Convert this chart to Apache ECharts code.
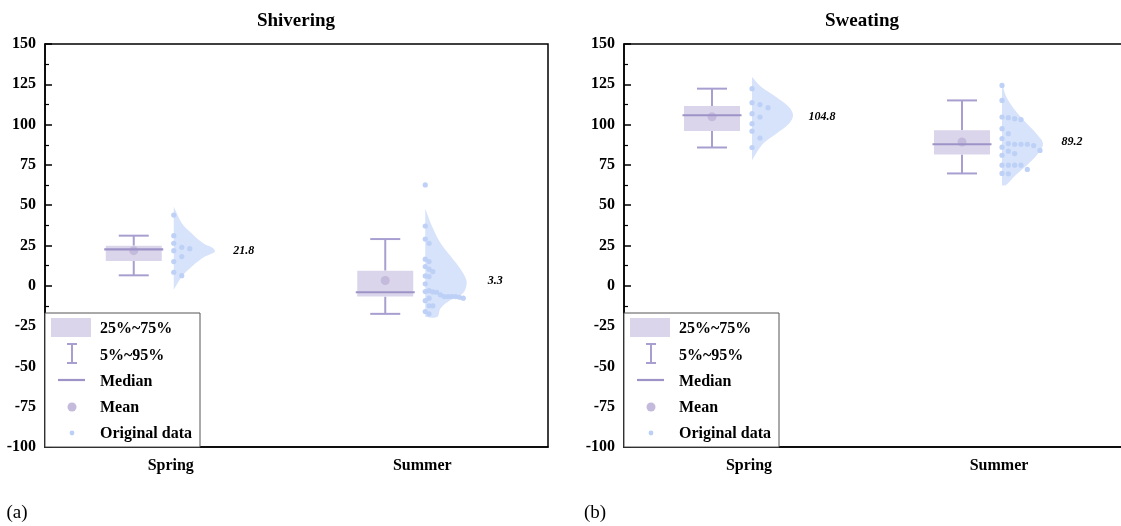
<!DOCTYPE html>
<html><head><meta charset="utf-8">
<script src="https://cdn.jsdelivr.net/npm/echarts@6/dist/echarts.min.js"></script>
<style>html,body{margin:0;padding:0;background:#fff}#c{width:1121px;height:526px}</style>
</head><body><div id="c"></div>
<script>
// ---------------- data ----------------
const categories = ['Spring', 'Summer'];
const panelTitles = ['Shivering', 'Sweating'];
const panelTags = ['(a)', '(b)'];
const legendLabels = ['25%~75%', '5%~95%', 'Median', 'Mean', 'Original data'];

// Shivering stats per category [Spring, Summer]
const shiverP5 = [6.5, -17.4];
const shiverQ1 = [15.4, -6.7];
const shiverMedian = [22.6, -4.0];
const shiverQ3 = [24.9, 9.4];
const shiverP95 = [31.1, 29.0];
const shiverMean = [21.8, 3.3];

// Sweating stats per category [Spring, Summer]
const sweatP5 = [85.8, 69.7];
const sweatQ1 = [96.1, 81.4];
const sweatMedian = [105.8, 87.8];
const sweatQ3 = [111.5, 96.5];
const sweatP95 = [122.3, 115.0];
const sweatMean = [104.8, 89.2];

// original data points
const shiverSpringData = [43.9, 31.1, 26.4, 23.9, 23.0, 21.8, 18.1, 15.0, 8.4, 6.3];
const shiverSummerData = [62.6, 37.1, 29.0, 26.4, 16.5, 15.0, 11.9, 10.3, 8.8, 6.1, 5.7, 1.2, -3.0, -3.6, -3.8, -4.0, -5.6, -6.7, -6.7, -6.7, -6.7, -7.1, -7.7, -7.7, -9.2, -12.4, -12.4, -16.0, -17.4];
const sweatSpringData = [122.3, 113.6, 112.4, 110.5, 106.8, 104.7, 100.6, 95.9, 91.7, 85.8];
const sweatSummerData = [124.3, 115.0, 104.7, 104.3, 103.7, 103.1, 97.5, 94.4, 91.3, 88.2, 87.8, 87.8, 87.8, 87.0, 86.0, 84.0, 83.5, 82.0, 81.0, 74.8, 74.8, 74.8, 74.8, 72.2, 69.7, 69.5];

// half-violin density profiles: [value, relative density]
const shiverSpringDensity = [[49.0,0],[38.7,0.2],[32.5,0.44],[26.4,0.72],[23.3,0.96],[21.2,1],[18.1,0.76],[11.9,0.44],[5.7,0.2],[-2.5,0]];
const shiverSummerDensity = [[48.0,0],[36.6,0.17],[26.4,0.375],[18.1,0.625],[9.8,0.875],[3.7,1],[-0.5,1],[-4.6,0.92],[-8.7,0.625],[-13.9,0.375],[-19.4,0.29],[-19.4,0]];
const sweatSpringDensity = [[129.5,0],[123.3,0.23],[117.1,0.59],[110.9,0.9],[105.8,1],[100.6,0.9],[94.4,0.59],[88.2,0.27],[77.9,0]];
const sweatSummerDensity = [[126.4,0],[118.1,0.09],[109.9,0.29],[101.6,0.57],[94.4,0.84],[88.2,1],[82.0,0.88],[74.8,0.61],[68.6,0.33],[62.4,0.09],[62.4,0]];

const yMin = -100, yMax = 150, yInterval = 25;

// ---------------- layout / style ----------------
const FONT = "'Liberation Serif', 'Times New Roman', serif";
const GRID_TOP = 44, GRID_H = 403;
const GRID_LEFTS = [45, 624];
const GRID_WIDTHS = [503, 500];
const BOX_OFFSET = -37, BOX_W = 56, CAP_W = 30;
const VIOLIN_OFFSET = 3, VIOLIN_W = 41;
const DOT_R = 2.6, SWARM_STEP = 8, SWARM_GAP_PX = 7;
const BOX_FILL = '#dad5eb', MEDIAN_C = '#9e93c7', WHISKER_C = '#a89fd0', MEAN_C = '#c4badc';
const VIOLIN_FILL = '#d7e3fb', DOT_C = '#bccff6';
const PX_PER_UNIT = GRID_H / (yMax - yMin);

// beeswarm layout: column index per point, then a per-group step so the swarm fits the violin width
function swarm(values, cat) {
  const thr = SWARM_GAP_PX / PX_PER_UNIT;
  const cols = [];
  const ks = values.map(v => {
    let k = 0;
    while (cols[k] && cols[k].some(u => Math.abs(u - v) < thr)) k++;
    (cols[k] = cols[k] || []).push(v);
    return k;
  });
  const maxK = Math.max.apply(null, ks);
  const step = maxK > 0 ? Math.min(SWARM_STEP, (VIOLIN_W - 3) / maxK) : SWARM_STEP;
  return values.map((v, i) => [cat, v, ks[i] * step]);
}

function boxRender(params, api) {
  const cat = api.value(0);
  const yy = v => api.coord([cat, v])[1];
  const cx = api.coord([cat, 0])[0] + BOX_OFFSET;
  const p5 = yy(api.value(1)), q1 = yy(api.value(2)), md = yy(api.value(3)), q3 = yy(api.value(4)), p95 = yy(api.value(5));
  const meanV = api.value(6), mn = yy(meanV);
  const ws = { stroke: WHISKER_C, lineWidth: 2 };
  return { type: 'group', children: [
    { type: 'line', shape: { x1: cx, y1: p95, x2: cx, y2: q3 }, style: ws },
    { type: 'line', shape: { x1: cx, y1: q1, x2: cx, y2: p5 }, style: ws },
    { type: 'line', shape: { x1: cx - CAP_W / 2, y1: p95, x2: cx + CAP_W / 2, y2: p95 }, style: ws },
    { type: 'line', shape: { x1: cx - CAP_W / 2, y1: p5, x2: cx + CAP_W / 2, y2: p5 }, style: ws },
    { type: 'rect', shape: { x: cx - BOX_W / 2, y: q3, width: BOX_W, height: q1 - q3 }, style: { fill: BOX_FILL } },
    { type: 'circle', shape: { cx: cx, cy: mn, r: 4.5 }, style: { fill: MEAN_C } },
    { type: 'line', shape: { x1: cx - BOX_W / 2 - 1.5, y1: md, x2: cx + BOX_W / 2 + 1.5, y2: md }, style: { stroke: MEDIAN_C, lineWidth: 2.2 } },
    { type: 'text', style: { text: meanV.toFixed(1), x: cx - BOX_OFFSET + 73, y: mn, align: 'center', verticalAlign: 'middle', font: 'italic bold 12px ' + FONT, fill: '#000' } }
  ]};
}

function makeViolinRender(profiles) {
  return function (params, api) {
    const cat = api.value(0);
    const prof = profiles[cat];
    const base = api.coord([cat, 0])[0] + VIOLIN_OFFSET;
    const pts = prof.map(p => [base + p[1] * VIOLIN_W, api.coord([cat, p[0]])[1]]);
    const back = prof.slice().reverse().map(p => [base, api.coord([cat, p[0]])[1]]);
    return { type: 'polygon', shape: { points: pts.concat(back), smooth: 0.35 }, style: { fill: VIOLIN_FILL } };
  };
}

function pointRender(params, api) {
  const c = api.coord([api.value(0), api.value(1)]);
  return { type: 'circle', shape: { cx: c[0] + VIOLIN_OFFSET + api.value(2), cy: c[1], r: DOT_R }, style: { fill: DOT_C, opacity: 0.95 } };
}

function statRows(p5, q1, md, q3, p95, mean) {
  return categories.map((c, i) => [i, p5[i], q1[i], md[i], q3[i], p95[i], mean[i]]);
}

const panels = [
  { stats: statRows(shiverP5, shiverQ1, shiverMedian, shiverQ3, shiverP95, shiverMean),
    dens: [shiverSpringDensity, shiverSummerDensity],
    pts: swarm(shiverSpringData, 0).concat(swarm(shiverSummerData, 1)) },
  { stats: statRows(sweatP5, sweatQ1, sweatMedian, sweatQ3, sweatP95, sweatMean),
    dens: [sweatSpringDensity, sweatSummerDensity],
    pts: swarm(sweatSpringData, 0).concat(swarm(sweatSummerData, 1)) }
];

const grids = [], xAxes = [], yAxes = [], series = [], graphics = [];
panels.forEach((p, i) => {
  grids.push({ left: GRID_LEFTS[i], top: GRID_TOP, width: GRID_WIDTHS[i], height: GRID_H, outerBoundsMode: 'none', containLabel: false, show: true, borderColor: '#000', borderWidth: 1.5, backgroundColor: 'transparent' });
  xAxes.push({ type: 'category', gridIndex: i, data: categories, boundaryGap: true,
    axisLine: { onZero: false, lineStyle: { color: '#000', width: 1.5 } }, axisTick: { show: false },
    axisLabel: { color: '#000', fontFamily: FONT, fontWeight: 'bold', fontSize: 16, margin: 11 } });
  yAxes.push({ type: 'value', gridIndex: i, min: yMin, max: yMax, interval: yInterval,
    axisLine: { show: true, onZero: false, lineStyle: { color: '#000', width: 1.5 } },
    axisTick: { show: true, inside: true, length: 7, lineStyle: { color: '#000', width: 1.5 } },
    minorTick: { show: true, splitNumber: 2, length: 4, lineStyle: { color: '#000', width: 1.2 } },
    splitLine: { show: false },
    axisLabel: { color: '#000', fontFamily: FONT, fontWeight: 'bold', fontSize: 16, margin: 9 } });
  series.push({ type: 'custom', xAxisIndex: i, yAxisIndex: i, z: 1, renderItem: makeViolinRender(p.dens), data: categories.map((c, k) => [k]), silent: true });
  series.push({ type: 'custom', xAxisIndex: i, yAxisIndex: i, z: 2, renderItem: pointRender, data: p.pts, silent: true });
  series.push({ type: 'custom', xAxisIndex: i, yAxisIndex: i, z: 3, renderItem: boxRender, data: p.stats, silent: true });

  // legend drawn as graphics
  const L = GRID_LEFTS[i];
  const tf = 'bold 16px ' + FONT;
  const ws = { stroke: WHISKER_C, lineWidth: 2 };
  graphics.push(
    { type: 'rect', z: 100, shape: { x: L, y: 313, width: 155, height: GRID_TOP + GRID_H - 313 }, style: { fill: '#fff', stroke: '#555', lineWidth: 1 } },
    { type: 'rect', z: 101, shape: { x: L + 6, y: 318, width: 40, height: 19 }, style: { fill: BOX_FILL } },
    { type: 'line', z: 101, shape: { x1: L + 27, y1: 344, x2: L + 27, y2: 363 }, style: ws },
    { type: 'line', z: 101, shape: { x1: L + 22, y1: 344, x2: L + 32, y2: 344 }, style: ws },
    { type: 'line', z: 101, shape: { x1: L + 22, y1: 363, x2: L + 32, y2: 363 }, style: ws },
    { type: 'line', z: 101, shape: { x1: L + 13, y1: 380, x2: L + 40, y2: 380 }, style: { stroke: MEDIAN_C, lineWidth: 2.2 } },
    { type: 'circle', z: 101, shape: { cx: L + 27, cy: 407, r: 4.5 }, style: { fill: MEAN_C } },
    { type: 'circle', z: 101, shape: { cx: L + 27, cy: 433, r: 2.4 }, style: { fill: DOT_C } }
  );
  [329, 356, 382, 408, 434].forEach((y, k) => {
    graphics.push({ type: 'text', z: 102, style: { text: legendLabels[k], x: L + 55, y: y, align: 'left', verticalAlign: 'middle', font: tf, fill: '#000' } });
  });
});

graphics.push(
  { type: 'text', style: { text: panelTitles[0], x: 296, y: 21, align: 'center', verticalAlign: 'middle', font: 'bold 19px ' + FONT, fill: '#000' } },
  { type: 'text', style: { text: panelTitles[1], x: 862, y: 21, align: 'center', verticalAlign: 'middle', font: 'bold 19px ' + FONT, fill: '#000' } },
  { type: 'text', style: { text: panelTags[0], x: 17, y: 513, align: 'center', verticalAlign: 'middle', font: '19px ' + FONT, fill: '#000' } },
  { type: 'text', style: { text: panelTags[1], x: 595, y: 513, align: 'center', verticalAlign: 'middle', font: '19px ' + FONT, fill: '#000' } }
);

const chart = echarts.init(document.getElementById('c'), null, { renderer: 'canvas' });
chart.setOption({
  backgroundColor: '#fff',
  animation: false,
  grid: grids,
  xAxis: xAxes,
  yAxis: yAxes,
  series: series,
  graphic: { elements: graphics }
});
</script>
</body></html>
